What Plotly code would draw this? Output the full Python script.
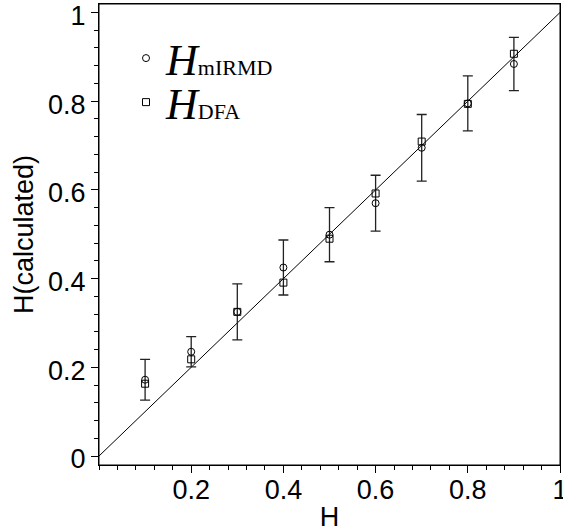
import plotly.graph_objects as go

# ---- data ----
H_true = [0.1, 0.2, 0.3, 0.4, 0.5, 0.6, 0.7, 0.8, 0.9]
H_mirmd = [0.172, 0.235, 0.325, 0.425, 0.499, 0.570, 0.695, 0.795, 0.884]
H_mirmd_err = [0.046, 0.034, 0.063, 0.062, 0.061, 0.063, 0.075, 0.062, 0.060]
H_dfa = [0.163, 0.218, 0.325, 0.391, 0.490, 0.592, 0.709, 0.794, 0.907]
diag_x = [0.0, 1.0]
diag_y = [0.0, 1.0]

x_tickvals = [0.2, 0.4, 0.6, 0.8, 1.0]
x_ticktext = ["0.2", "0.4", "0.6", "0.8", "1"]
y_tickvals = [0.0, 0.2, 0.4, 0.6, 0.8, 1.0]
y_ticktext = ["0", "0.2", "0.4", "0.6", "0.8", "1"]

SANS = "Liberation Sans, Arial, sans-serif"
SERIF = "Liberation Serif, Times New Roman, serif"

fig = go.Figure()

fig.add_trace(go.Scatter(
    x=diag_x, y=diag_y, mode="lines",
    line=dict(color="black", width=1),
    showlegend=False, hoverinfo="skip",
))

fig.add_trace(go.Scatter(
    x=H_true, y=H_mirmd, mode="markers",
    name='<i>H</i><span style="font-size:22px">mIRMD</span>',
    marker=dict(symbol="circle-open", size=7, color="black", line=dict(width=1)),
    error_y=dict(type="data", array=H_mirmd_err, visible=True,
                 color="#222", thickness=1.3, width=5),
    legend="legend",
))

fig.add_trace(go.Scatter(
    x=H_true, y=H_dfa, mode="markers",
    name='<i>H</i><span style="font-size:22px">DFA</span>',
    marker=dict(symbol="square-open", size=7, color="black", line=dict(width=1)),
    legend="legend2",
))

axis_common = dict(
    showgrid=False, zeroline=False, automargin=False,
    showline=True, mirror=True, linecolor="black", linewidth=1,
    ticks="outside", ticklen=7, tickwidth=1, tickcolor="black",
    tickfont=dict(family=SANS, size=27, color="black"),
    ticklabeloverflow="allow",
)

fig.update_layout(
    template="none",
    width=563, height=532,
    margin=dict(l=99, r=3, t=4, b=67),
    paper_bgcolor="white", plot_bgcolor="white",
    xaxis=dict(
        range=[0, 1], tickmode="array", tickvals=x_tickvals, ticktext=x_ticktext,
        minor=dict(tickmode="linear", tick0=0, dtick=0.04, ticks="outside",
                   ticklen=4, tickcolor="black", tickwidth=1),
        ticklabelstandoff=-6,
        title=dict(text="H", font=dict(family=SANS, size=27, color="black"), standoff=8),
        **axis_common,
    ),
    yaxis=dict(
        range=[-0.0203, 1.0192], tickmode="array", tickvals=y_tickvals, ticktext=y_ticktext,
        minor=dict(tickmode="linear", tick0=0, dtick=0.04, ticks="outside",
                   ticklen=4, tickcolor="black", tickwidth=1),
        ticklabelshift=3,
        title=dict(text="H(calculated)", font=dict(family=SANS, size=27, color="black"), standoff=6),
        **axis_common,
    ),
    legend=dict(x=0.0586, y=0.9588, xanchor="left", yanchor="top",
                bgcolor="rgba(0,0,0,0)", borderwidth=0,
                font=dict(family=SERIF, size=44, color="black")),
    legend2=dict(x=0.0586, y=0.8633, xanchor="left", yanchor="top",
                 bgcolor="rgba(0,0,0,0)", borderwidth=0,
                 font=dict(family=SERIF, size=44, color="black")),
    shapes=[dict(type="rect", xref="paper", yref="paper",
                 x0=0, x1=1, y0=0, y1=1, line=dict(color="black", width=1),
                 fillcolor="rgba(0,0,0,0)", layer="above")],
)

fig.write_html("out.html")
